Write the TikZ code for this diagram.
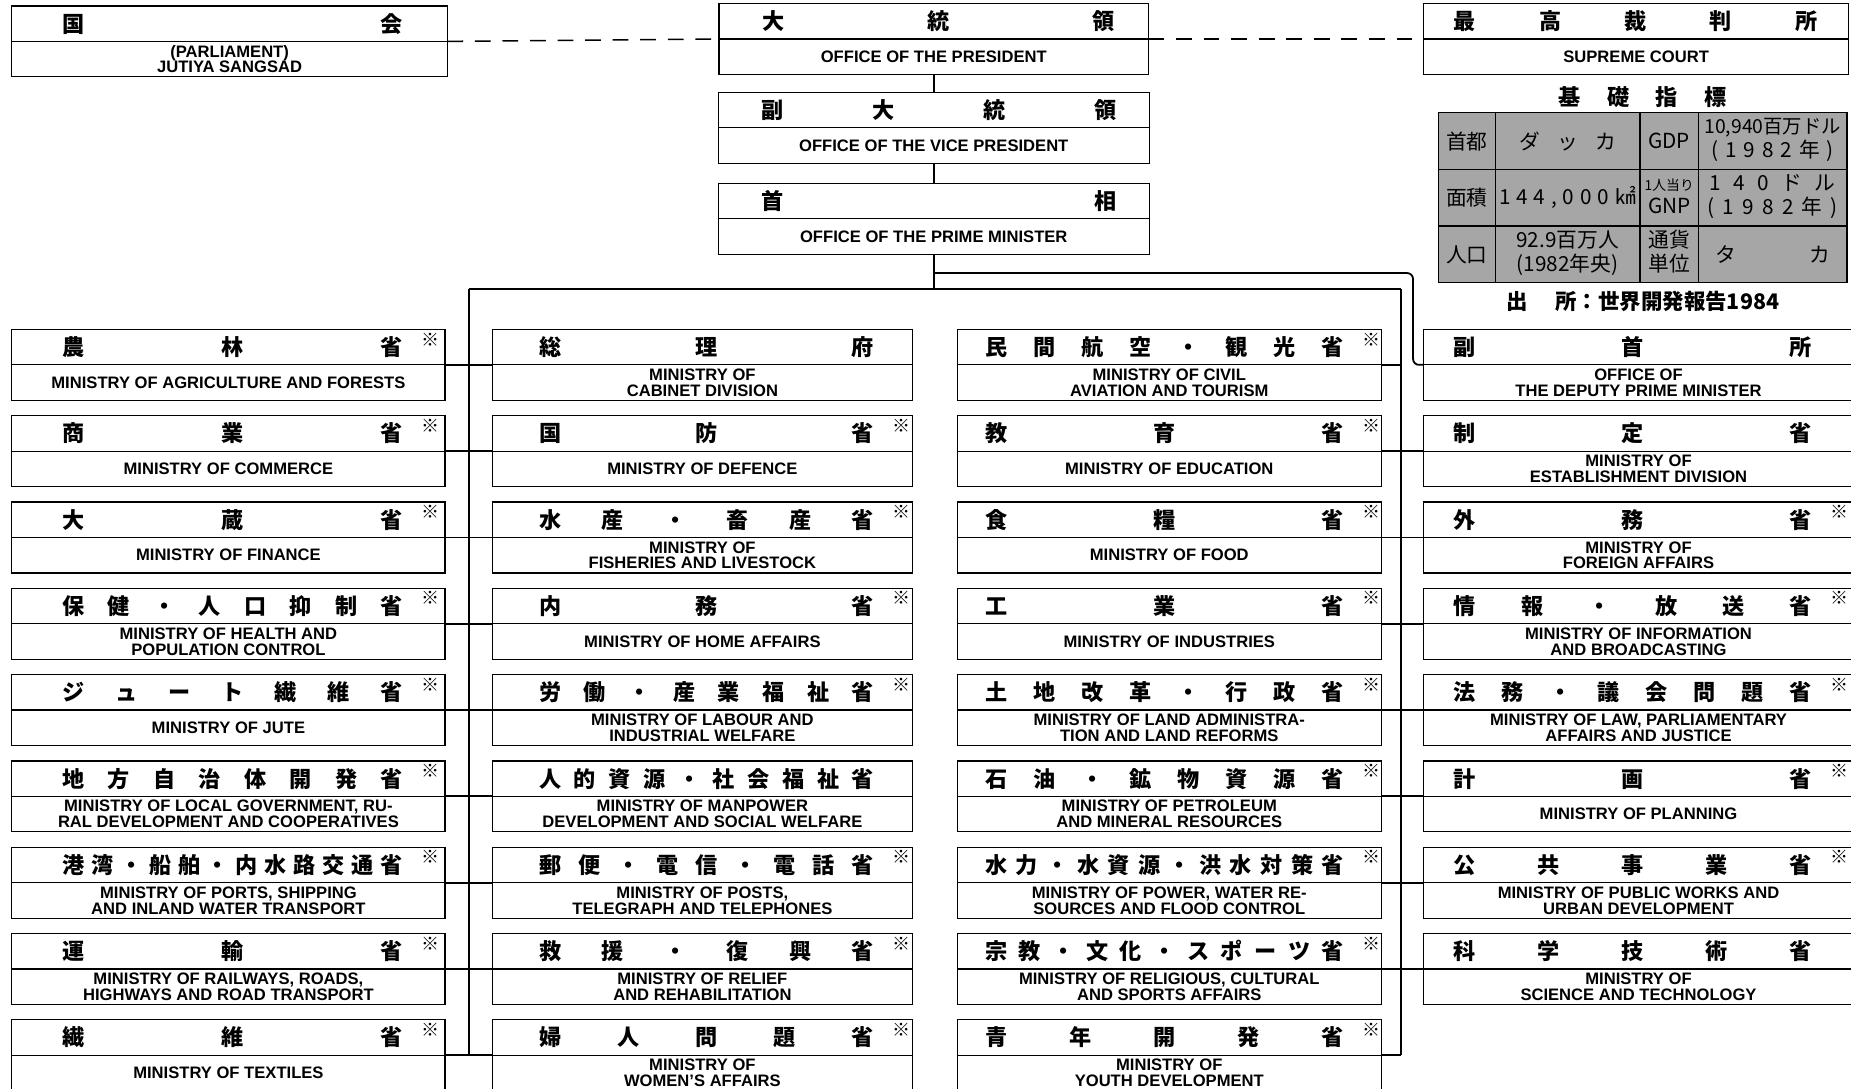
\documentclass[tikz,border=0pt]{standalone}
\usepackage{fontspec}
\setmainfont{Liberation Sans}
\newfontfamily\jpfont{Noto Sans CJK JP}
\usetikzlibrary{shapes.multipart,matrix,positioning,calc}

% spread the characters of a title evenly over a line
\newcommand\spread[1]{\spreadA#1\relax}
\def\spreadA#1{#1\spreadB}
\def\spreadB#1{\ifx\relax#1\else\hfill#1\expandafter\spreadB\fi}

\newcommand\halfh{8.7mm}
\newcommand\jp[2][]{\parbox[c][\halfh][c]{\linewidth}{\jpfont\bfseries\fontsize{16}{16}\selectfont
  \hbox to\linewidth{\hskip\jpl\relax\spread{#2}#1\hskip\jpr\relax}}}
\newcommand\mk{\rlap{\hskip4.8mm\raisebox{2.4mm}[0pt][0pt]{\fontsize{13}{13}\selectfont ※}}}
\newcommand\en[1]{\parbox[c][\halfh][c]{\linewidth}{\centering\bfseries\fontsize{12}{11.4}\selectfont #1}}
\newcommand\two[2]{\begin{tabular}{@{}c@{}}#1\\#2\end{tabular}}
\newcommand\cell[2]{\hbox to #1{\spread{#2}}}

\begin{document}
\begin{tikzpicture}[x=0.3mm, y=-0.3mm,
    box/.style={rectangle split, rectangle split parts=2, draw, line width=0.9pt,
        inner sep=0pt, outer sep=0pt, text width=#1, align=center, anchor=north west},
    jpl/.store in=\jpl, jpr/.store in=\jpr,
    colA/.style={box=110.1mm, jpl=12.8mm, jpr=10.7mm},
    colB/.style={box=106.8mm, jpl=11.9mm, jpr=9.8mm},
    colC/.style={box=107.7mm, jpl=7.1mm, jpr=9.5mm},
    colD/.style={box=109.2mm, jpl=7.7mm, jpr=10.7mm},
    wire/.style={line width=1.3pt},
    link/.style={line width=1.1pt, dash pattern=on 4mm off 3mm},
    infotab/.style={matrix of nodes, anchor=north west, inner sep=0pt, outer sep=0pt,
        column sep=-0.9pt, row sep=-0.9pt,
        nodes={draw, line width=0.9pt, fill=black!35, inner sep=0pt, anchor=center,
            minimum height=14.4mm, font=\jpfont\fontsize{15}{16.5}\selectfont},
        column 1/.style={nodes={minimum width=14.4mm}},
        column 2/.style={nodes={minimum width=36.8mm}},
        column 3/.style={nodes={minimum width=14.9mm}},
        column 4/.style={nodes={minimum width=37.7mm}}}
]
\path[use as bounding box, fill=white] (0,0) rectangle (1568,922);

    % Top offices
    \node[box=110.7mm, jpl=12.8mm, jpr=11.3mm] (parl) at (10,5) {\jp{国会}\nodepart{two}\en{(PARLIAMENT)\\JUTIYA SANGSAD}};
    \node[box=109.2mm, jpl=11mm, jpr=8.6mm] (pres) at (609,3) {\jp{大統領}\nodepart{two}\en{OFFICE OF THE PRESIDENT}};
    \node[box=109.5mm, jpl=11mm, jpr=8.3mm, below=4.5mm of pres] (vp) {\jp{副大統領}\nodepart{two}\en{OFFICE OF THE VICE PRESIDENT}};
    \node[box=109.5mm, jpl=11mm, jpr=8.3mm, below=5.1mm of vp] (pm) {\jp{首相}\nodepart{two}\en{OFFICE OF THE PRIME MINISTER}};
    \node[box=108mm, jpl=7.7mm, jpr=8mm] (court) at (1206,3) {\jp{最高裁判所}\nodepart{two}\en{SUPREME COURT}};

    % Basic data
    \matrix (facts) [infotab] at (1218,95) {
        首都 & \cell{24.6mm}{ダッカ} & GDP & \two{\fontsize{14}{15}\selectfont 10,940百万ドル}{\cell{31mm}{(1982年)}} \\
        面積 & \cell{34.7mm}{144,000㎢} & \two{\fontsize{10}{10}\selectfont 1人当り}{GNP} & \two{\cell{32mm}{140ドル}}{\cell{33mm}{(1982年)}} \\
        人口 & \two{92.9百万人}{(1982年央)} & \two{通貨}{単位} & \cell{29mm}{タカ} \\
    };
    \node[above=1mm of facts, inner sep=0pt] (facthead) {\jpfont\bfseries\fontsize{16}{16}\selectfont\cell{42.6mm}{基礎指標}};
    \node[below=2mm of facts, inner sep=0pt] (source) {\jpfont\bfseries\fontsize{15.5}{16}\selectfont 出\hspace{1.3em}所：世界開発報告1984};

    % Column 1
    \node[colA] (agri) at (10,279) {\jp[\mk]{農林省}\nodepart{two}\en{MINISTRY OF AGRICULTURE AND FORESTS}};
    \node[colA, below=3.9mm of agri] (commerce) {\jp[\mk]{商業省}\nodepart{two}\en{MINISTRY OF COMMERCE}};
    \node[colA, below=3.9mm of commerce] (finance) {\jp[\mk]{大蔵省}\nodepart{two}\en{MINISTRY OF FINANCE}};
    \node[colA, below=3.9mm of finance] (health) {\jp[\mk]{保健・人口抑制省}\nodepart{two}\en{MINISTRY OF HEALTH AND\\POPULATION CONTROL}};
    \node[colA, below=3.9mm of health] (jute) {\jp[\mk]{ジュート繊維省}\nodepart{two}\en{MINISTRY OF JUTE}};
    \node[colA, below=3.9mm of jute] (localgov) {\jp[\mk]{地方自治体開発省}\nodepart{two}\en{MINISTRY OF LOCAL GOVERNMENT, RU-\\RAL DEVELOPMENT AND COOPERATIVES}};
    \node[colA, below=3.9mm of localgov] (ports) {\jp[\mk]{港湾・船舶・内水路交通省}\nodepart{two}\en{MINISTRY OF PORTS, SHIPPING\\AND INLAND WATER TRANSPORT}};
    \node[colA, below=3.9mm of ports] (rail) {\jp[\mk]{運輸省}\nodepart{two}\en{MINISTRY OF RAILWAYS, ROADS,\\HIGHWAYS AND ROAD TRANSPORT}};
    \node[colA, below=3.9mm of rail] (textile) {\jp[\mk]{繊維省}\nodepart{two}\en{MINISTRY OF TEXTILES}};

    % Column 2
    \node[colB] (cabinet) at (417,279) {\jp{総理府}\nodepart{two}\en{MINISTRY OF\\CABINET DIVISION}};
    \node[colB, below=3.9mm of cabinet] (defence) {\jp[\mk]{国防省}\nodepart{two}\en{MINISTRY OF DEFENCE}};
    \node[colB, below=3.9mm of defence] (fish) {\jp[\mk]{水産・畜産省}\nodepart{two}\en{MINISTRY OF\\FISHERIES AND LIVESTOCK}};
    \node[colB, below=3.9mm of fish] (home) {\jp[\mk]{内務省}\nodepart{two}\en{MINISTRY OF HOME AFFAIRS}};
    \node[colB, below=3.9mm of home] (labour) {\jp[\mk]{労働・産業福祉省}\nodepart{two}\en{MINISTRY OF LABOUR AND\\INDUSTRIAL WELFARE}};
    \node[colB, below=3.9mm of labour] (manpower) {\jp{人的資源・社会福祉省}\nodepart{two}\en{MINISTRY OF MANPOWER\\DEVELOPMENT AND SOCIAL WELFARE}};
    \node[colB, below=3.9mm of manpower] (posts) {\jp[\mk]{郵便・電信・電話省}\nodepart{two}\en{MINISTRY OF POSTS,\\TELEGRAPH AND TELEPHONES}};
    \node[colB, below=3.9mm of posts] (relief) {\jp[\mk]{救援・復興省}\nodepart{two}\en{MINISTRY OF RELIEF\\AND REHABILITATION}};
    \node[colB, below=3.9mm of relief] (women) {\jp[\mk]{婦人問題省}\nodepart{two}\en{MINISTRY OF\\WOMEN'S AFFAIRS}};

    % Column 3
    \node[colC] (aviation) at (811,279) {\jp[\mk]{民間航空・観光省}\nodepart{two}\en{MINISTRY OF CIVIL\\AVIATION AND TOURISM}};
    \node[colC, below=3.9mm of aviation] (educ) {\jp[\mk]{教育省}\nodepart{two}\en{MINISTRY OF EDUCATION}};
    \node[colC, below=3.9mm of educ] (food) {\jp[\mk]{食糧省}\nodepart{two}\en{MINISTRY OF FOOD}};
    \node[colC, below=3.9mm of food] (industry) {\jp[\mk]{工業省}\nodepart{two}\en{MINISTRY OF INDUSTRIES}};
    \node[colC, below=3.9mm of industry] (land) {\jp[\mk]{土地改革・行政省}\nodepart{two}\en{MINISTRY OF LAND ADMINISTRA-\\TION AND LAND REFORMS}};
    \node[colC, below=3.9mm of land] (petrol) {\jp[\mk]{石油・鉱物資源省}\nodepart{two}\en{MINISTRY OF PETROLEUM\\AND MINERAL RESOURCES}};
    \node[colC, below=3.9mm of petrol] (power) {\jp[\mk]{水力・水資源・洪水対策省}\nodepart{two}\en{MINISTRY OF POWER, WATER RE-\\SOURCES AND FLOOD CONTROL}};
    \node[colC, below=3.9mm of power] (relig) {\jp[\mk]{宗教・文化・スポーツ省}\nodepart{two}\en{MINISTRY OF RELIGIOUS, CULTURAL\\AND SPORTS AFFAIRS}};
    \node[colC, below=3.9mm of relig] (youth) {\jp[\mk]{青年開発省}\nodepart{two}\en{MINISTRY OF\\YOUTH DEVELOPMENT}};

    % Column 4
    \node[colD] (deputy) at (1206,279) {\jp{副首所}\nodepart{two}\en{OFFICE OF\\THE DEPUTY PRIME MINISTER}};
    \node[colD, below=3.9mm of deputy] (estab) {\jp{制定省}\nodepart{two}\en{MINISTRY OF\\ESTABLISHMENT DIVISION}};
    \node[colD, below=3.9mm of estab] (foreign) {\jp[\mk]{外務省}\nodepart{two}\en{MINISTRY OF\\FOREIGN AFFAIRS}};
    \node[colD, below=3.9mm of foreign] (info) {\jp[\mk]{情報・放送省}\nodepart{two}\en{MINISTRY OF INFORMATION\\AND BROADCASTING}};
    \node[colD, below=3.9mm of info] (law) {\jp[\mk]{法務・議会問題省}\nodepart{two}\en{MINISTRY OF LAW, PARLIAMENTARY\\AFFAIRS AND JUSTICE}};
    \node[colD, below=3.9mm of law] (plan) {\jp[\mk]{計画省}\nodepart{two}\en{MINISTRY OF PLANNING}};
    \node[colD, below=3.9mm of plan] (works) {\jp[\mk]{公共事業省}\nodepart{two}\en{MINISTRY OF PUBLIC WORKS AND\\URBAN DEVELOPMENT}};
    \node[colD, below=3.9mm of works] (science) {\jp{科学技術省}\nodepart{two}\en{MINISTRY OF\\SCIENCE AND TECHNOLOGY}};

    % Links between the top offices
    \draw[link] (parl.text split east) -- (pres.text split west);
    \draw[link] (pres.text split east) -- (court.text split west);
    \draw[wire] (pres.south) -- (vp.north);
    \draw[wire] (vp.south) -- (pm.north);

    % Buses below the prime minister
    \coordinate (busL) at (397,245);
    \coordinate (busR) at (1187,245);
    \coordinate (tap) at ($(pm.south)+(0,16)$);
    \draw[wire] (pm.south) -- (pm.south |- busL);
    \draw[wire] (busL) -- (busR);
    \draw[wire, rounded corners=1.5mm] (tap) -| ($(deputy.text split west)+(-9,0)$) -- (deputy.text split west);
    \draw[wire] (busL) -- (busL |- textile.text split east);
    \draw[wire] (busR) -- (busR |- youth.text split east);

    % Left trunk
    \draw[wire] (agri.text split east) -- (cabinet.text split west);
    \draw[wire] (commerce.text split east) -- (defence.text split west);
    \draw[wire] (finance.text split east) -- (fish.text split west);
    \draw[wire] (health.text split east) -- (home.text split west);
    \draw[wire] (jute.text split east) -- (labour.text split west);
    \draw[wire] (localgov.text split east) -- (manpower.text split west);
    \draw[wire] (ports.text split east) -- (posts.text split west);
    \draw[wire] (rail.text split east) -- (relief.text split west);
    \draw[wire] (textile.text split east) -- (women.text split west);

    % Right trunk
    \draw[wire] (aviation.text split east) -- (busR |- aviation.text split east);
    \draw[wire] (educ.text split east) -- (estab.text split west);
    \draw[wire] (food.text split east) -- (foreign.text split west);
    \draw[wire] (industry.text split east) -- (info.text split west);
    \draw[wire] (land.text split east) -- (law.text split west);
    \draw[wire] (petrol.text split east) -- (plan.text split west);
    \draw[wire] (power.text split east) -- (works.text split west);
    \draw[wire] (relig.text split east) -- (science.text split west);
    \draw[wire] (youth.text split east) -- (busR |- youth.text split east);

\end{tikzpicture}
\end{document}
